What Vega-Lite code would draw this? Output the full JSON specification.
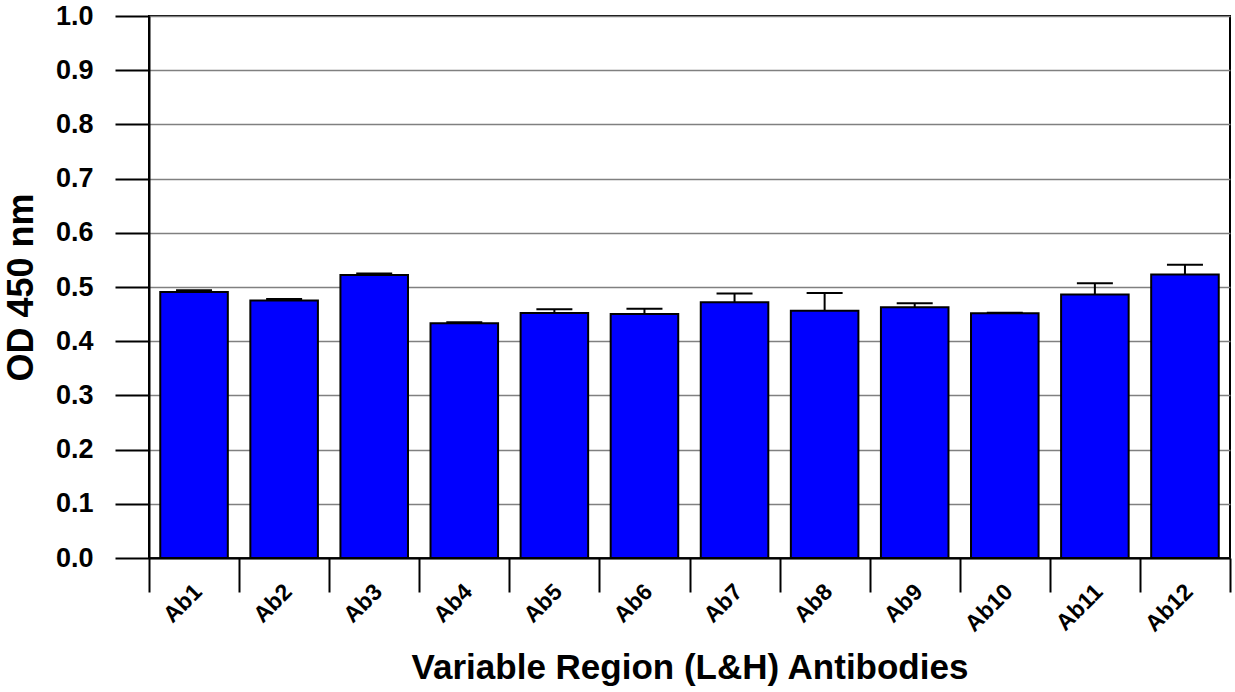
{
  "$schema": "https://vega.github.io/schema/vega-lite/v6.json",
  "width": 1081,
  "height": 542,
  "autosize": {"type": "none"},
  "padding": {"left": 149, "top": 16, "right": 5, "bottom": 134},
  "background": "white",
  "config": {
    "view": {"stroke": "black", "strokeWidth": 2},
    "font": "Liberation Sans",
    "axis": {"labelFont": "Liberation Sans", "titleFont": "Liberation Sans", "labelFontWeight": "bold", "titleFontWeight": "bold", "labelColor": "black", "titleColor": "black"}
  },
  "data": {
    "values": [
      {"antibody": "Ab1", "od": 0.491, "upper": 0.494},
      {"antibody": "Ab2", "od": 0.475, "upper": 0.478},
      {"antibody": "Ab3", "od": 0.522, "upper": 0.525},
      {"antibody": "Ab4", "od": 0.433, "upper": 0.435},
      {"antibody": "Ab5", "od": 0.452, "upper": 0.459},
      {"antibody": "Ab6", "od": 0.450, "upper": 0.460},
      {"antibody": "Ab7", "od": 0.472, "upper": 0.488},
      {"antibody": "Ab8", "od": 0.456, "upper": 0.489},
      {"antibody": "Ab9", "od": 0.4625, "upper": 0.470},
      {"antibody": "Ab10", "od": 0.4515, "upper": 0.4525},
      {"antibody": "Ab11", "od": 0.486, "upper": 0.507},
      {"antibody": "Ab12", "od": 0.523, "upper": 0.541}
    ]
  },
  "encoding": {
    "x": {
      "field": "antibody",
      "type": "nominal",
      "sort": null,
      "scale": {"paddingInner": 0, "paddingOuter": 0},
      "axis": {
        "title": "Variable Region (L&H) Antibodies",
        "titleFontSize": 35,
        "titlePadding": 14,
        "labelFontSize": 23,
        "labelAngle": -45,
        "labelPadding": -12,
        "labelOffset": -4,
        "tickBand": "extent",
        "tickSize": 34,
        "tickWidth": 2,
        "tickColor": "black",
        "domainColor": "black",
        "domainWidth": 2,
        "grid": false
      }
    }
  },
  "layer": [
    {
      "mark": {"type": "rule", "color": "black", "strokeWidth": 2},
      "encoding": {
        "y": {"field": "od", "type": "quantitative"},
        "y2": {"field": "upper"}
      }
    },
    {
      "mark": {"type": "tick", "color": "black", "size": 36, "thickness": 2, "opacity": 1},
      "encoding": {
        "y": {"field": "upper", "type": "quantitative"}
      }
    },
    {
      "mark": {"type": "bar", "fill": "#0000ff", "stroke": "black", "strokeWidth": 2, "width": {"band": 0.75}},
      "encoding": {
        "y": {
          "field": "od",
          "type": "quantitative",
          "scale": {"domain": [0, 1], "nice": false, "zero": true},
          "axis": {
            "title": "OD 450 nm",
            "titleFontSize": 36,
            "titlePadding": 15,
            "labelFontSize": 27,
            "labelPadding": 22,
            "format": ".1f",
            "values": [0, 0.1, 0.2, 0.3, 0.4, 0.5, 0.6, 0.7, 0.8, 0.9, 1.0],
            "tickSize": 34,
            "tickWidth": 2,
            "tickColor": "black",
            "domainColor": "black",
            "domainWidth": 2,
            "grid": true,
            "gridColor": "#808080",
            "gridWidth": 1.5,
            "gridOpacity": 1
          }
        }
      }
    }
  ]
}
